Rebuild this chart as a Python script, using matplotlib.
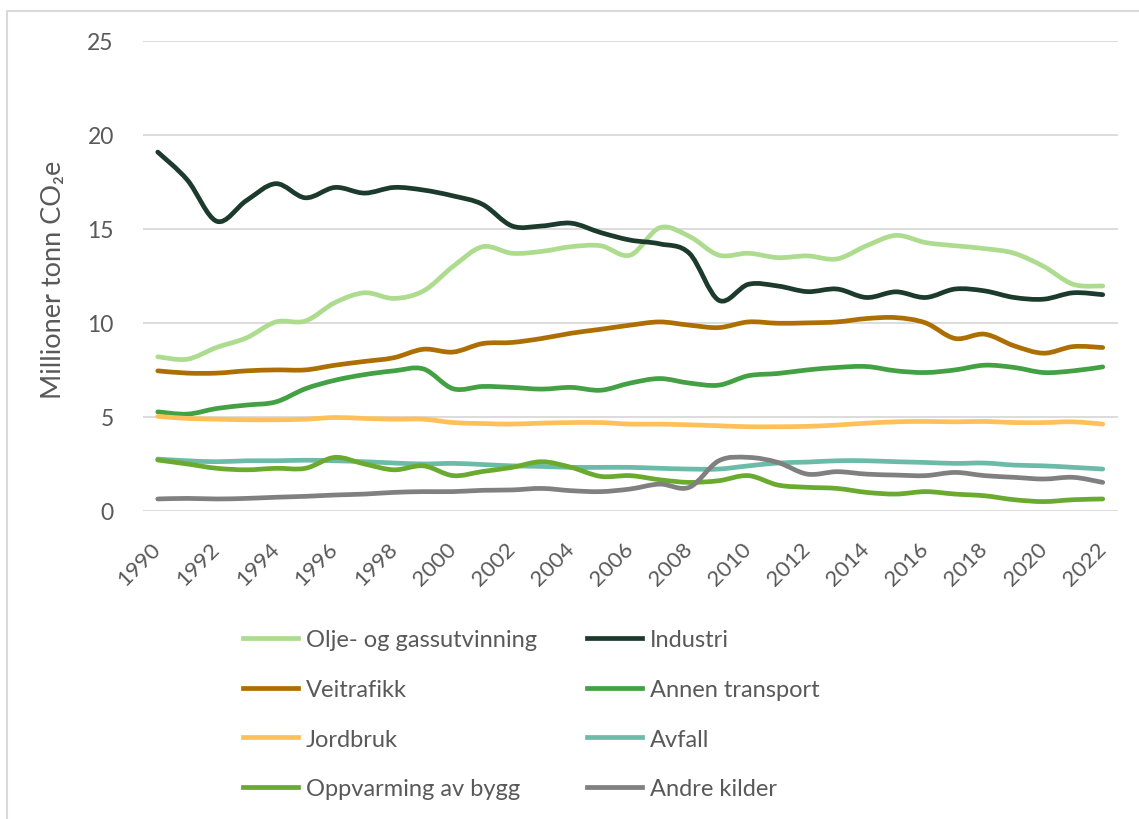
import numpy as np
import matplotlib
matplotlib.use("Agg")
import matplotlib.pyplot as plt
from matplotlib.path import Path
from matplotlib.patches import PathPatch
from matplotlib.lines import Line2D

plt.rcParams["font.family"] = ["Lato", "DejaVu Sans"]

# ── data (millioner tonn CO2e) ─────────────────────────────────────────
years = np.arange(1990, 2023)

olje = [8.2, 8.07, 8.7, 9.2, 10.05, 10.1, 11.08, 11.6, 11.3, 11.7,
        13.0, 14.05, 13.7, 13.8, 14.05, 14.1, 13.6, 15.06, 14.6, 13.6,
        13.7, 13.47, 13.56, 13.4, 14.1, 14.65, 14.27, 14.1, 13.95, 13.7,
        13.0, 12.05, 11.96]
industri = [19.08, 17.6, 15.4, 16.5, 17.4, 16.65, 17.2, 16.9, 17.2, 17.06,
            16.75, 16.3, 15.15, 15.15, 15.3, 14.8, 14.4, 14.2, 13.7, 11.2,
            12.05, 11.96, 11.66, 11.8, 11.35, 11.65, 11.35, 11.8, 11.7, 11.35,
            11.26, 11.6, 11.5]
veitrafikk = [7.45, 7.33, 7.33, 7.45, 7.5, 7.5, 7.75, 7.95, 8.15, 8.6,
              8.45, 8.9, 8.96, 9.17, 9.45, 9.66, 9.88, 10.05, 9.88, 9.75,
              10.05, 9.98, 10.0, 10.05, 10.23, 10.28, 10.0, 9.17, 9.4, 8.78,
              8.39, 8.74, 8.69]
annen = [5.27, 5.15, 5.45, 5.63, 5.8, 6.5, 6.95, 7.25, 7.45, 7.55,
         6.5, 6.62, 6.57, 6.48, 6.57, 6.42, 6.8, 7.04, 6.8, 6.69,
         7.19, 7.31, 7.5, 7.63, 7.68, 7.45, 7.36, 7.5, 7.75, 7.63,
         7.36, 7.45, 7.66]
jordbruk = [5.03, 4.92, 4.88, 4.85, 4.85, 4.88, 4.97, 4.92, 4.88, 4.88,
            4.7, 4.65, 4.62, 4.67, 4.7, 4.7, 4.62, 4.62, 4.58, 4.53,
            4.48, 4.48, 4.5, 4.57, 4.67, 4.74, 4.76, 4.74, 4.76, 4.7,
            4.7, 4.74, 4.62]
avfall = [2.76, 2.67, 2.62, 2.67, 2.67, 2.7, 2.67, 2.62, 2.55, 2.5,
          2.53, 2.47, 2.4, 2.37, 2.32, 2.32, 2.32, 2.27, 2.23, 2.23,
          2.4, 2.55, 2.6, 2.67, 2.67, 2.62, 2.58, 2.53, 2.55, 2.44,
          2.4, 2.32, 2.23]
oppvarming = [2.71, 2.5, 2.27, 2.19, 2.27, 2.27, 2.85, 2.5, 2.19, 2.4,
              1.88, 2.1, 2.32, 2.62, 2.32, 1.84, 1.88, 1.66, 1.52, 1.61,
              1.88, 1.38, 1.26, 1.2, 0.99, 0.9, 1.03, 0.9, 0.81, 0.6,
              0.5, 0.6, 0.64]
andre = [0.64, 0.67, 0.64, 0.67, 0.73, 0.78, 0.85, 0.9, 0.99, 1.03,
         1.03, 1.1, 1.12, 1.2, 1.08, 1.03, 1.17, 1.43, 1.26, 2.67,
         2.85, 2.58, 1.96, 2.09, 1.96, 1.91, 1.88, 2.05, 1.88, 1.79,
         1.7, 1.79, 1.52]

series = [
    ("Olje- og gassutvinning", olje, "#addc8f"),
    ("Industri", industri, "#1d3b2c"),
    ("Veitrafikk", veitrafikk, "#ad6f03"),
    ("Annen transport", annen, "#43a043"),
    ("Jordbruk", jordbruk, "#ffc05a"),
    ("Avfall", avfall, "#6cbba8"),
    ("Oppvarming av bygg", oppvarming, "#6aaa2e"),
    ("Andre kilder", andre, "#808080"),
]

TXT = "#595959"
GRID = "#d9d9d9"


def smooth_path(x, y):
    # Excel-style smoothed line: cubic Bezier through every point
    pts = np.column_stack([x, y]).astype(float)
    n = len(pts)
    verts = [pts[0]]
    codes = [Path.MOVETO]
    for i in range(n - 1):
        p0 = pts[max(i - 1, 0)]
        p1 = pts[i]
        p2 = pts[i + 1]
        p3 = pts[min(i + 2, n - 1)]
        verts += [p1 + (p2 - p0) / 6, p2 - (p3 - p1) / 6, p2]
        codes += [Path.CURVE4] * 3
    return Path(verts, codes)


W, H = 1139, 820
fig = plt.figure(figsize=(W / 100, H / 100), dpi=100)
ax = fig.add_axes([143 / W, 1 - 512 / H, 974.5 / W, (512 - 41.7) / H])

lw = 3.4
for name, vals, col in series:
    ax.add_patch(PathPatch(smooth_path(years, vals), fill=False, edgecolor=col,
                           lw=lw, capstyle="round", joinstyle="round"))

ax.set_xlim(1989.5, 2022.5)
ax.set_ylim(0, 25)
ax.set_yticks(range(0, 26, 5))
ax.set_xticks(years[::2])
ax.set_xticklabels([str(y) for y in years[::2]], rotation=45, ha="right",
                   va="center", rotation_mode="anchor")
ax.tick_params(axis="x", length=0, pad=25, labelsize=16, labelcolor=TXT)
ax.tick_params(axis="y", length=0, pad=21, labelsize=16.5, labelcolor=TXT)
ax.grid(axis="y", color=GRID, lw=1.3)
ax.set_axisbelow(True)
for s in ax.spines.values():
    s.set_visible(False)

ax.set_ylabel("Millioner tonn CO₂e", fontsize=19.5, color=TXT)
ax.yaxis.set_label_coords(-0.079, 0.493)

# legend: column-wise order
order = [0, 2, 4, 6, 1, 3, 5, 7]
handles = [Line2D([], [], color=series[i][2], lw=lw) for i in order]
labels = [series[i][0] for i in order]
fig.legend(handles, labels, ncol=2, loc="upper left",
           bbox_to_anchor=(243 / W, 1 - 630 / H), frameon=False,
           fontsize=17, labelcolor=TXT, handlelength=2.33, handletextpad=0.34,
           columnspacing=2.1, labelspacing=1.22, borderpad=0, borderaxespad=0)

# outer chart frame (left and top edges visible)
fig.add_artist(Line2D([7 / W, 7 / W, 1], [0, 1 - 12 / H, 1 - 12 / H],
                      color=GRID, lw=1.5, transform=fig.transFigure))

fig.savefig("out.png", dpi=100)
